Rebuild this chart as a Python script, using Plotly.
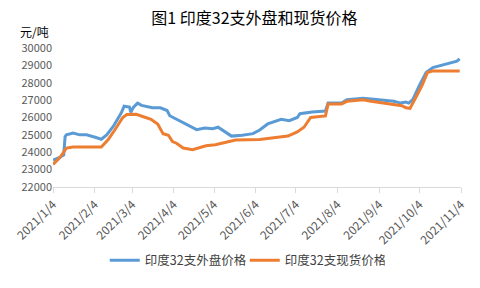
import plotly.graph_objects as go

# 印度32支外盘价格
dates_ext = ["2021-01-04","2021-01-09","2021-01-12","2021-01-13","2021-01-14","2021-01-19","2021-01-24","2021-01-29",
             "2021-02-05","2021-02-09","2021-02-13","2021-02-18","2021-02-24","2021-02-26","2021-03-02","2021-03-03",
             "2021-03-05","2021-03-08","2021-03-11","2021-03-14","2021-03-19","2021-03-25","2021-03-30","2021-04-01",
             "2021-04-06","2021-04-14","2021-04-21","2021-04-27","2021-05-03","2021-05-07","2021-05-12","2021-05-17",
             "2021-05-25","2021-06-02","2021-06-07","2021-06-13","2021-06-23","2021-06-29","2021-07-05","2021-07-07",
             "2021-07-16","2021-07-26","2021-07-28","2021-08-07","2021-08-11","2021-08-23","2021-08-29","2021-09-08",
             "2021-09-15","2021-09-20","2021-09-24","2021-09-26","2021-09-29","2021-10-04","2021-10-09","2021-10-14",
             "2021-10-20","2021-10-27","2021-11-01","2021-11-03"]
ext_price = [23550,23700,23850,24900,25000,25100,25000,25000,
             24850,24750,25000,25500,26280,26650,26600,26300,
             26600,26830,26700,26650,26560,26560,26400,26100,
             25900,25560,25300,25400,25350,25440,25170,24930,
             24980,25070,25280,25630,25900,25820,26000,26220,
             26320,26370,26830,26830,27020,27110,27060,26960,
             26930,26830,26890,26830,27020,27850,28590,28870,
             29000,29110,29240,29370]

# 印度32支现货价格
dates_spot = ["2021-01-04","2021-01-09","2021-01-14","2021-01-19","2021-02-09","2021-02-14","2021-02-19","2021-02-25",
              "2021-02-28","2021-03-07","2021-03-14","2021-03-18","2021-03-23","2021-03-27","2021-03-31","2021-04-03",
              "2021-04-06","2021-04-11","2021-04-18","2021-04-23","2021-04-28","2021-05-05","2021-05-13","2021-05-20",
              "2021-06-07","2021-06-15","2021-06-28","2021-07-05","2021-07-10","2021-07-15","2021-07-20","2021-07-26",
              "2021-07-28","2021-08-07","2021-08-11","2021-08-23","2021-08-29","2021-09-08","2021-09-15","2021-09-21",
              "2021-09-24","2021-09-27","2021-10-01","2021-10-06","2021-10-10","2021-10-14","2021-11-03"]
spot_price = [23300,23680,24240,24300,24300,24720,25280,26000,
              26170,26180,26000,25900,25630,25070,24980,24610,
              24520,24240,24150,24240,24370,24430,24560,24700,
              24740,24800,24930,25170,25440,26000,26040,26090,
              26780,26780,26930,27020,26930,26830,26740,26680,
              26560,26520,27110,27850,28590,28680,28680]

tick_vals = ["2021-01-04","2021-02-04","2021-03-04","2021-04-04","2021-05-04","2021-06-04",
             "2021-07-04","2021-08-04","2021-09-04","2021-10-04","2021-11-04"]
tick_text = ["2021/1/4","2021/2/4","2021/3/4","2021/4/4","2021/5/4","2021/6/4",
             "2021/7/4","2021/8/4","2021/9/4","2021/10/4","2021/11/4"]

FONT = "Noto Sans CJK SC"

fig = go.Figure()
fig.add_trace(go.Scatter(x=dates_ext, y=ext_price, mode="lines", name="印度32支外盘价格",
                         line=dict(color="#5B9BD5", width=3)))
fig.add_trace(go.Scatter(x=dates_spot, y=spot_price, mode="lines", name="印度32支现货价格",
                         line=dict(color="#ED7D31", width=3)))

fig.update_layout(
    width=480, height=288,
    margin=dict(l=51, r=16, t=48, b=96),
    paper_bgcolor="white", plot_bgcolor="white",
    font=dict(family=FONT, color="#595959", size=11),
    showlegend=True,
    legend=dict(orientation="h", x=0.47, xanchor="center", y=-0.53, yanchor="middle",
                font=dict(size=12.5, color="#404040"), itemwidth=30,
                entrywidth=95, entrywidthmode="pixels",
                tracegroupgap=0),
    title=dict(text="图1 印度32支外盘和现货价格", x=0.53, xanchor="center", y=1 - 18/288,
               yanchor="middle", font=dict(size=16, color="#000000", family=FONT)),
    xaxis=dict(type="date", range=["2021-01-04", "2021-11-04"],
               tickvals=tick_vals, ticktext=tick_text, tickangle=-45,
               showgrid=False, showline=True, linecolor="#d9d9d9", linewidth=1,
               ticks="outside", ticklen=5, tickcolor="#d9d9d9",
               tickfont=dict(size=12, color="#595959"), zeroline=False),
    yaxis=dict(range=[22000, 30000], dtick=1000, tickformat="d",
               showgrid=False, showline=False, zeroline=False,
               tickfont=dict(size=11, color="#595959"), ticks=""),
)

fig.add_annotation(text="元/吨", xref="paper", yref="paper", x=(16 - 51) / 413, y=(192 - 31) / 144,
                   xanchor="left", yanchor="middle", showarrow=False,
                   font=dict(size=12, color="#000000", family=FONT))

fig.write_html("out.html")
